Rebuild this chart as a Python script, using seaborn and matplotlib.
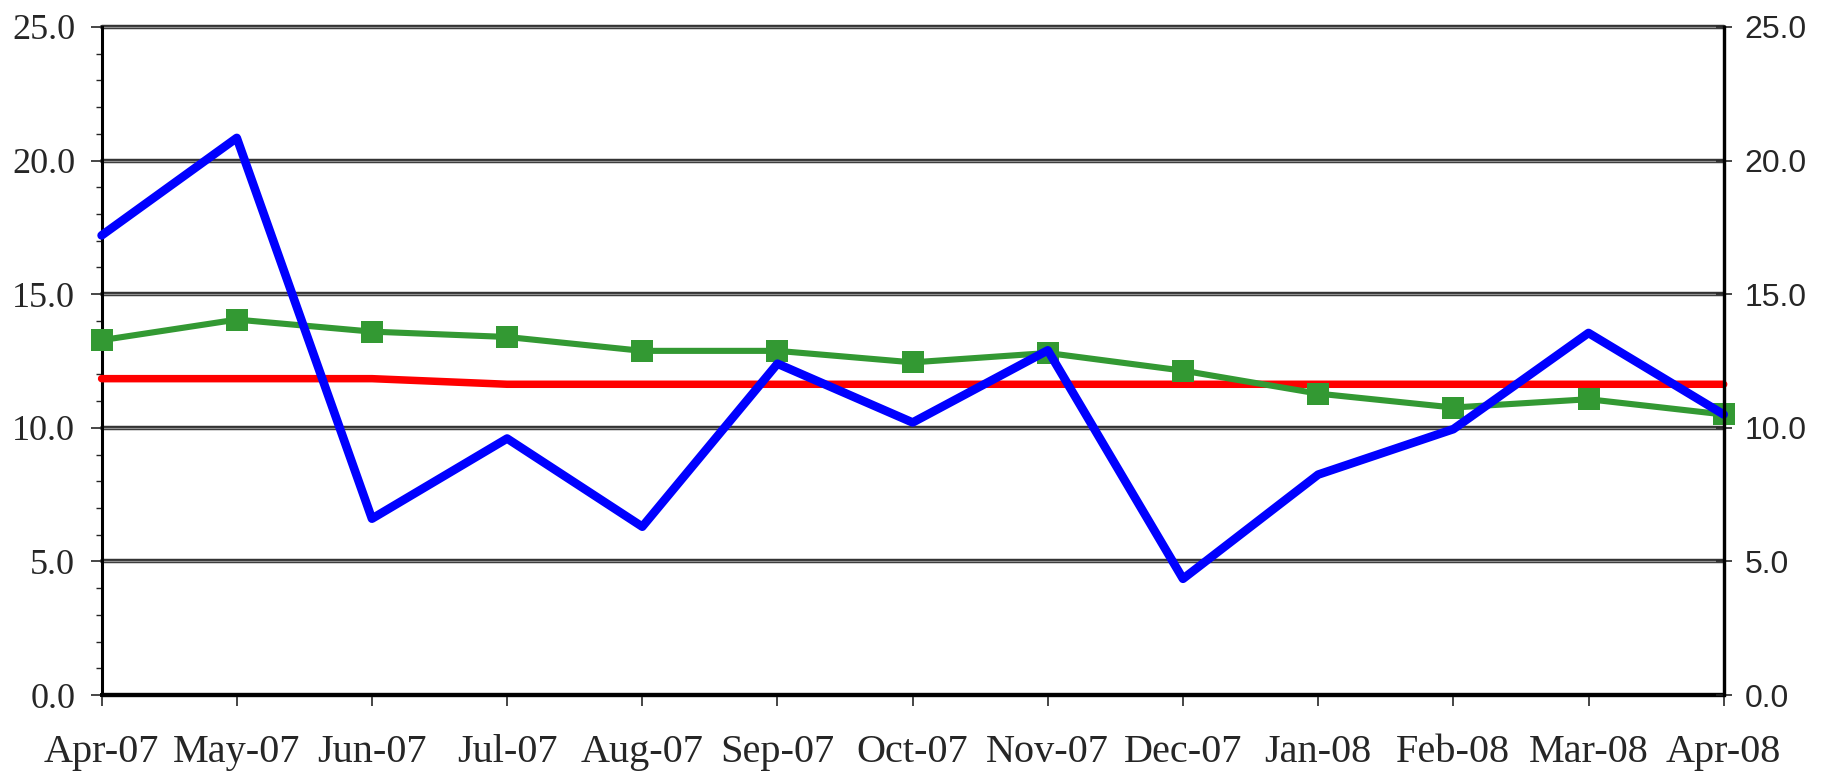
import numpy as np
import pandas as pd
import matplotlib
matplotlib.use("Agg")
import matplotlib.pyplot as plt
from matplotlib.ticker import MultipleLocator, FormatStrFormatter
import seaborn as sns

months = ["Apr-07", "May-07", "Jun-07", "Jul-07", "Aug-07", "Sep-07", "Oct-07",
          "Nov-07", "Dec-07", "Jan-08", "Feb-08", "Mar-08", "Apr-08"]
blue_vals = [17.2, 20.85, 6.6, 9.6, 6.3, 12.4, 10.2, 12.9, 4.35, 8.25, 9.95, 13.55, 10.5]
green_vals = [13.28, 14.05, 13.6, 13.4, 12.88, 12.88, 12.45, 12.8, 12.14, 11.28, 10.76, 11.07, 10.5]
red_vals = [11.84, 11.84, 11.84, 11.63, 11.63, 11.63, 11.63, 11.63, 11.63, 11.63, 11.63, 11.63, 11.63]

df = pd.DataFrame({"pos": np.arange(len(months)), "month": months,
                   "blue": blue_vals, "green": green_vals, "red": red_vals})

sns.set_style("white")
plt.rcParams["font.family"] = ["Liberation Serif", "DejaVu Serif"]

fig = plt.figure(figsize=(18.24, 7.71), dpi=100)
ax = fig.add_axes([0.0557, 0.0985, 0.8893, 0.8665])

# gridlines (double-line look)
ax.set_ylim(0, 25)
ax.set_xlim(0, len(months) - 1)
ax.yaxis.set_major_locator(MultipleLocator(5))
ax.yaxis.set_minor_locator(MultipleLocator(1))
for yv in ax.get_yticks()[1:]:
    ax.axhline(yv, color="#333333", lw=3.2, zorder=1, clip_on=False)
    ax.axhline(yv, color="#909090", lw=0.9, zorder=1.1, clip_on=False)

sns.lineplot(data=df, x="pos", y="red", ax=ax, color="#FF0000", zorder=3, clip_on=False)
red_line = ax.lines[-1]
sns.lineplot(data=df, x="pos", y="green", ax=ax, color="#339933", marker="s",
             zorder=4, clip_on=False)
green_line = ax.lines[-1]
sns.lineplot(data=df, x="pos", y="blue", ax=ax, color="#0000FF", zorder=5, clip_on=False)
blue_line = ax.lines[-1]

# seaborn sets its own widths, force the thick excel look
red_line.set_linewidth(5.4)
red_line.set_solid_capstyle("round")
green_line.set_linewidth(4.4)
green_line.set_markersize(16)
green_line.set_markeredgewidth(0)
blue_line.set_linewidth(6.2)

ax.set_xticks(df["pos"])
ax.set_xticklabels(months, fontsize=29)
ax.yaxis.set_major_formatter(FormatStrFormatter("%.1f"))
ax.tick_params(axis="y", which="major", direction="out", length=8, width=1.2,
               labelsize=26, pad=11, left=True)
ax.tick_params(axis="y", which="minor", direction="out", length=4, width=1.0, left=True)
ax.tick_params(axis="x", direction="out", length=8, width=1.2, pad=20, bottom=True)
ax.set_xlabel("")
ax.set_ylabel("")

for side in ["left", "bottom", "right"]:
    ax.spines[side].set_color("black")
ax.spines["left"].set_linewidth(2.2)
ax.spines["bottom"].set_linewidth(2.8)
ax.spines["right"].set_linewidth(2.2)
ax.spines["top"].set_visible(False)

ax2 = ax.twinx()
ax2.set_ylim(ax.get_ylim())
ax2.yaxis.set_major_locator(MultipleLocator(5))
ax2.yaxis.set_major_formatter(FormatStrFormatter("%.1f"))
ax2.tick_params(axis="y", direction="inout", length=12, width=1.2, pad=9, right=True,
                labelsize=23, labelfontfamily="Liberation Sans")
for side in ["left", "bottom", "top"]:
    ax2.spines[side].set_visible(False)
ax2.spines["right"].set_color("black")
ax2.spines["right"].set_linewidth(2.4)
ax2.grid(False)

fig.savefig("out.png", dpi=100)
